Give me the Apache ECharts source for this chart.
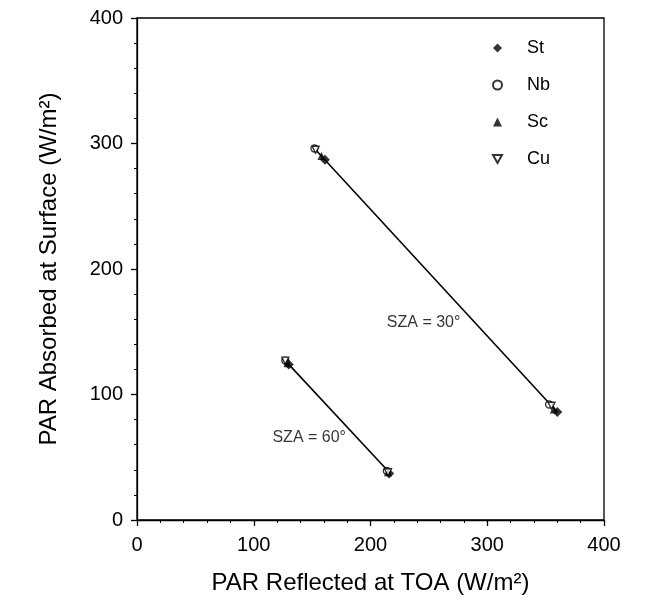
<!DOCTYPE html>
<html>
<head>
<meta charset="utf-8">
<script src="https://cdn.jsdelivr.net/npm/echarts@6/dist/echarts.min.js"></script>
<style>html,body{margin:0;padding:0;background:#fff}#c{width:664px;height:595px}</style>
</head>
<body>
<div id="c"></div>
<script>
// Data: [PAR reflected at TOA, PAR absorbed at surface]
const stPoints = [[161, 287], [360, 86], [130, 124], [216, 37]];
const nbPoints = [[152, 296], [353, 92], [127, 127], [214, 39]];
const scPoints = [[158, 290], [357, 88], [129, 125], [215, 38]];
const cuPoints = [[153, 295], [355, 91], [127, 127], [215, 38]];
const lineSZA30 = [[152, 296], [360, 86]];
const lineSZA60 = [[127, 127], [217, 37]];
const annotations = [
  { text: 'SZA = 30°', value: [214, 157] },
  { text: 'SZA = 60°', value: [116, 66] }
];
const axisTicks = [0, 100, 200, 300, 400];

const FONT = 'Liberation Sans, Arial, sans-serif';
const downTri = 'path://M0,0 L10,0 L5,9 Z';

const chart = echarts.init(document.getElementById('c'), null, { renderer: 'canvas' });
chart.setOption({
  animation: false,
  backgroundColor: '#fff',
  textStyle: { fontFamily: FONT, color: '#000' },
  grid: { left: 137, right: 60, top: 18, bottom: 75, outerBoundsMode: 'none', containLabel: false, show: true, borderColor: '#000', borderWidth: 1.3, backgroundColor: 'transparent' },
  legend: {
    orient: 'vertical', left: 487, top: 34, itemGap: 19, itemWidth: 9, itemHeight: 9,
    textStyle: { fontFamily: FONT, fontSize: 18, color: '#000', padding: [0, 0, 0, 20] },
    data: ['St', 'Nb', 'Sc', 'Cu']
  },
  xAxis: {
    type: 'value', min: axisTicks[0], max: axisTicks[axisTicks.length - 1], interval: 100,
    name: 'PAR Reflected at TOA (W/m²)', nameLocation: 'middle', nameGap: 51,
    nameTextStyle: { fontFamily: FONT, fontSize: 24, color: '#000' },
    axisLine: { show: true, lineStyle: { color: '#000', width: 1.3 } },
    axisTick: { show: true, length: 6, inside: false, lineStyle: { color: '#000', width: 1.3 } },
    minorTick: { show: true, splitNumber: 5, length: 3, lineStyle: { color: '#000', width: 1 } },
    axisLabel: { fontFamily: FONT, fontSize: 20, color: '#000', margin: 15 },
    splitLine: { show: false }
  },
  yAxis: {
    type: 'value', min: axisTicks[0], max: axisTicks[axisTicks.length - 1], interval: 100,
    name: 'PAR Absorbed at Surface (W/m²)', nameLocation: 'middle', nameGap: 76,
    nameTextStyle: { fontFamily: FONT, fontSize: 24, color: '#000' },
    axisLine: { show: true, lineStyle: { color: '#000', width: 1.3 } },
    axisTick: { show: true, length: 6, inside: false, lineStyle: { color: '#000', width: 1.3 } },
    minorTick: { show: true, splitNumber: 5, length: 3, lineStyle: { color: '#000', width: 1 } },
    axisLabel: { fontFamily: FONT, fontSize: 20, color: '#000', margin: 14 },
    splitLine: { show: false }
  },
  series: [
    { type: 'line', data: lineSZA30, symbol: 'none', lineStyle: { color: '#000', width: 1.6 }, silent: true, z: 1 },
    { type: 'line', data: lineSZA60, symbol: 'none', lineStyle: { color: '#000', width: 1.6 }, silent: true, z: 1 },
    { name: 'St', type: 'scatter', data: stPoints, symbol: 'diamond', symbolSize: 10, itemStyle: { color: '#000' }, z: 3 },
    { name: 'Nb', type: 'scatter', data: nbPoints, symbol: 'circle', symbolSize: 7, itemStyle: { color: '#fff', borderColor: '#000', borderWidth: 1.4 }, z: 3 },
    { name: 'Sc', type: 'scatter', data: scPoints, symbol: 'triangle', symbolSize: 8, itemStyle: { color: '#000' }, z: 3 },
    { name: 'Cu', type: 'scatter', data: cuPoints, symbol: downTri, symbolSize: 7, itemStyle: { color: '#fff', borderColor: '#000', borderWidth: 1.4 }, z: 3 },
    {
      type: 'scatter', symbolSize: 0, silent: true, z: 4,
      data: annotations.map(a => ({ value: a.value, name: a.text })),
      label: { show: true, position: 'right', distance: 0, formatter: p => p.name, fontFamily: FONT, fontSize: 16, color: '#000' }
    }
  ]
});
</script>
</body>
</html>
